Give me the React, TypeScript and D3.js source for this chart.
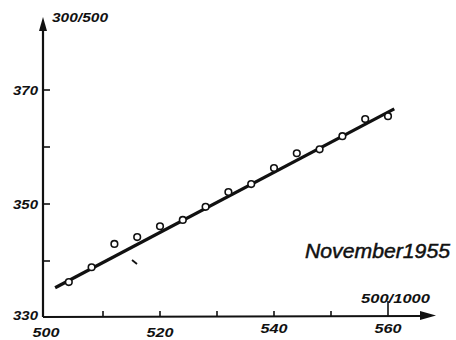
import React from "react";
import * as d3 from "d3";

const xValues = [504, 508, 512, 516, 520, 524, 528, 532, 536, 540, 544, 548, 552, 556, 560];
const yValues = [336.3, 338.9, 343.0, 344.2, 346.1, 347.2, 349.5, 352.1, 353.5, 356.3, 358.9, 359.6, 361.9, 364.9, 365.4];
const fitX = [501.6, 561.1];
const fitY = [335.3, 366.7];
const xTickLabels = [500, 520, 540, 560];
const xTickMarks = [510, 520, 530, 540, 550, 560];
const yTickLabels = [330, 350, 370];
const yTickMarks = [340, 350, 360, 370];
const xAxisTitle = "500/1000";
const yAxisTitle = "300/500";
const caption = "November1955";

export default function App() {
  const W = 456, H = 340;
  const x = d3.scaleLinear().domain([500, 560]).range([46, 388]);
  const y = d3.scaleLinear().domain([330, 370]).range([318, 90]);
  const axisY = 317;
  const axisX = 43;
  const font = "'Liberation Sans', Arial, sans-serif";
  const line = d3.line<number>().x((_, i) => x(fitX[i])).y((_, i) => y(fitY[i]));
  return (
    <svg width={W} height={H} style={{ position: "absolute", left: 0, top: 0 }}>
      <rect width={W} height={H} fill="#fff" />
      {/* axes */}
      <line x1={axisX} y1={axisY} x2={axisX} y2={28} stroke="#111" strokeWidth={2.2} />
      <path d={`M${axisX},17 L${axisX - 4},31 L${axisX + 4},31 Z`} fill="#111" />
      <line x1={axisX} y1={axisY} x2={422} y2={axisY - 1} stroke="#111" strokeWidth={2.2} />
      <path d={`M436,${axisY - 1.5} L420,${axisY - 6} L420,${axisY + 3} Z`} fill="#111" />
      {xTickMarks.map((t) => (
        <line key={t} x1={x(t)} x2={x(t)} y1={axisY} y2={t === 560 ? axisY - 16 : axisY - 6} stroke="#111" strokeWidth={1.6} />
      ))}
      {yTickMarks.map((t) => (
        <line key={t} x1={axisX} x2={axisX + 7} y1={y(t)} y2={y(t)} stroke="#111" strokeWidth={1.6} />
      ))}
      {xTickLabels.map((t, i) => (
        <text key={t} x={x(t)} y={i < 2 ? 337 : 333} textAnchor="middle" fontFamily={font} fontStyle="italic" fontWeight="bold" fontSize={13} fill="#111" textLength={27} lengthAdjust="spacingAndGlyphs">{t}</text>
      ))}
      {yTickLabels.map((t) => (
        <text key={t} x={38} y={y(t) + (t === 330 ? 2 : 5)} textAnchor="end" fontFamily={font} fontStyle="italic" fontWeight="bold" fontSize={13} fill="#111" textLength={25} lengthAdjust="spacingAndGlyphs">{t}</text>
      ))}
      <text x={52} y={22} fontFamily={font} fontStyle="italic" fontWeight="bold" fontSize={13} fill="#111" textLength={56} lengthAdjust="spacingAndGlyphs">{yAxisTitle}</text>
      <text x={361} y={303} fontFamily={font} fontStyle="italic" fontWeight="bold" fontSize={12} fill="#111" textLength={69} lengthAdjust="spacingAndGlyphs">{xAxisTitle}</text>
      <text x={305} y={258} fontFamily={font} fontStyle="italic" fontSize={21} fill="#111" stroke="#111" strokeWidth={0.5} textLength={145} lengthAdjust="spacingAndGlyphs">{caption}</text>
      {/* fitted line */}
      <path d={line([0, 1]) || ""} stroke="#111" strokeWidth={3.2} fill="none" />
      {/* points */}
      {xValues.map((v, i) => (
        <circle key={v} cx={x(v)} cy={y(yValues[i])} r={3.3} fill="#fff" stroke="#111" strokeWidth={1.6} />
      ))}
      {/* stray mark */}
      <line x1={132} y1={260} x2={137} y2={264} stroke="#111" strokeWidth={1.8} />
    </svg>
  );
}
